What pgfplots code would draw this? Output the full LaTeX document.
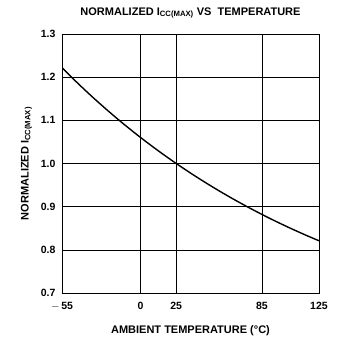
\documentclass[border=0pt]{standalone}
\usepackage{pgfplots}
\pgfplotsset{compat=1.18}
\usepackage{fontspec}
\setmainfont{Liberation Sans}
\begin{document}
\begin{tikzpicture}[x=1pt,y=1pt]
\begin{axis}[
  at={(0,0)}, anchor=south west,
  scale only axis, width=257pt, height=259pt,
  xmin=-55, xmax=125, ymin=0.7, ymax=1.3,
  xtick={-55,0,25,85,125},
  xticklabels={$-$\,55,0,25,85,125},
  ytick={0.7,0.8,0.9,1.0,1.1,1.2,1.3},
  yticklabels={0.7,0.8,0.9,1.0,1.1,1.2,1.3},
  grid=major,
  major grid style={black, line width=0.6pt},
  axis line style={black, line width=0.8pt},
  tick style={draw=none},
  tick label style={font=\fontsize{10.5}{12}\selectfont\bfseries},
  xticklabel style={yshift=-6pt},
  yticklabel style={xshift=-3pt},
  title={NORMALIZED I\textsubscript{CC(MAX)} VS\ \ TEMPERATURE},
  title style={font=\fontsize{11}{13}\selectfont\bfseries, yshift=6pt},
  xlabel={AMBIENT TEMPERATURE (°C)},
  xlabel style={font=\fontsize{11}{13}\selectfont\bfseries, yshift=-8pt},
  ylabel={NORMALIZED I\textsubscript{CC(MAX)}},
  ylabel style={font=\fontsize{11}{13}\selectfont\bfseries, yshift=2pt},
]
\addplot[black, line width=1.4pt, smooth] coordinates {
(-55,1.222) (-45,1.1893) (-35,1.1581) (-25,1.1285) (-15,1.1002) (-5,1.0733)
(5,1.0477) (15,1.0233) (25,1.0) (35,0.9779) (45,0.9568) (55,0.9367)
(65,0.9176) (75,0.8994) (85,0.8821) (95,0.8656) (105,0.8500) (115,0.8351) (125,0.821)
};
\end{axis}
\path[use as bounding box] (-62,-49) rectangle (277,293);
\end{tikzpicture}
\end{document}
